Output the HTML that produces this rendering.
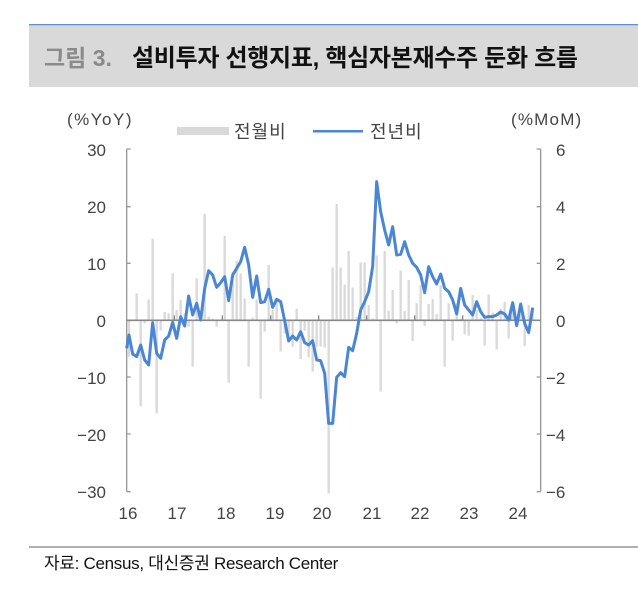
<!DOCTYPE html>
<html><head><meta charset="utf-8"><style>
body{margin:0;background:#fff;width:638px;height:597px;overflow:hidden;font-family:"Liberation Sans","Noto Sans CJK KR",sans-serif;}
</style></head><body>
<svg width="638" height="597" xmlns="http://www.w3.org/2000/svg" style="position:absolute;left:0;top:0">
<rect x="29" y="24" width="609" height="1.5" fill="#5b8fd6"/>
<rect x="29" y="26" width="609" height="61" fill="#d9d9d9"/>
<text x="44" y="66" font-size="23" font-weight="bold" fill="#8a8a8a" font-family="Liberation Sans,Noto Sans CJK KR,sans-serif">그림 3.</text>
<text x="132" y="66" font-size="24" font-weight="bold" fill="#111" font-family="Liberation Sans,Noto Sans CJK KR,sans-serif" letter-spacing="-0.3">설비투자 선행지표, 핵심자본재수주 둔화 흐름</text>
<g font-family="Liberation Sans,Noto Sans CJK KR,sans-serif" font-size="17" fill="#444">
<text x="67" y="125" letter-spacing="1.5">(%YoY)</text>
<text x="511" y="125" letter-spacing="1.2">(%MoM)</text>
<rect x="177" y="127" width="52" height="8" fill="#d9d9d9"/>
<text x="234" y="138" font-size="18" letter-spacing="1">전월비</text>
<rect x="313" y="130" width="50" height="2.5" fill="#4a86d4"/>
<text x="370" y="138" font-size="18" letter-spacing="1">전년비</text>
<g text-anchor="end">
<text x="106" y="156">30</text><text x="106" y="213">20</text><text x="106" y="270">10</text><text x="106" y="327">0</text>
<text x="106" y="384">−10</text><text x="106" y="441">−20</text><text x="106" y="498">−30</text>
</g>
<g text-anchor="start">
<text x="556" y="156">6</text><text x="556" y="213">4</text><text x="556" y="270">2</text><text x="556" y="327">0</text>
<text x="546" y="384">−2</text><text x="546" y="441">−4</text><text x="546" y="498">−6</text>
</g>
<g text-anchor="middle">
<text x="128" y="519">16</text><text x="177" y="519">17</text><text x="226" y="519">18</text><text x="275" y="519">19</text><text x="322" y="519">20</text><text x="372" y="519">21</text><text x="420" y="519">22</text><text x="469" y="519">23</text><text x="518" y="519">24</text>
</g>
</g>
<g transform="translate(120,160) scale(0.33333)">
<g stroke="#d9d9d9" stroke-width="7">
<path d="M27 481V590M50 481V400M62 481V738M74 481V490M86 481V418M98 481V236M110 481V760M122 481V512M134 481V456M146 481V460M158 481V340M170 481V450M182 481V420M194 481V460M206 481V500M218 481V620M230 481V355M242 481V470M254 481V162M266 481V470M278 481V476M290 481V500M302 481V480M314 481V228M326 481V668M338 481V335M350 481V302M362 481V340M374 481V415M386 481V620M398 481V473M410 481V418M422 481V716M434 481V515M446 481V315M458 481V450M470 481V420M482 481V575M494 481V520M506 481V540M518 481V560M530 481V446M542 481V597M554 481V512M566 481V592M578 481V635M590 481V560M602 481V560M614 481V562M626 481V1000M638 481V322M650 481V132M662 481V322M674 481V374M686 481V273M698 481V383M710 481V470M722 481V307M734 481V307M746 481V435M758 481V475M770 481V286M782 481V695M794 481V273M806 481V452M818 481V390M830 481V490M842 481V332M854 481V453M866 481V360M878 481V543M890 481V430M902 481V375M914 481V498M926 481V432M938 481V417M950 481V462M962 481V375M974 481V620M986 481V430M998 481V542M1010 481V430M1022 481V476M1034 481V523M1046 481V527M1058 481V405M1070 481V450M1082 481V474M1094 481V557M1106 481V403M1118 481V458M1130 481V568M1142 481V446M1154 481V426M1166 481V536M1178 481V425M1190 481V476M1202 481V450M1214 481V558M1226 481V435M1238 481V444"/>
</g>
<path d="M20 -33V995M20 -33H32M20 140H32M20 310H32M20 481H32M20 651H32M20 822H32M20 995H32" stroke="#999" stroke-width="4" fill="none"/>
<path d="M1262 -33V995M1262 -33H1250M1262 140H1250M1262 310H1250M1262 481H1250M1262 651H1250M1262 822H1250M1262 995H1250" stroke="#999" stroke-width="4" fill="none"/>
<path d="M20 481H1262" stroke="#888" stroke-width="5"/>
<path d="M163 481V466M307 481V466M452 481V466M596 481V466M740 481V466M884 481V466M1028 481V466M1172 481V466" stroke="#888" stroke-width="4"/>
<polyline fill="none" stroke="#4a86d4" stroke-width="9" stroke-linejoin="round" points="20,565 27,525 38,582 50,590 62,555 74,600 86,615 98,488 110,580 122,595 134,540 146,528 158,487 170,535 182,470 194,498 206,408 218,465 230,430 242,480 254,385 266,332 278,345 290,382 302,368 314,350 326,422 338,345 350,325 362,305 374,262 386,315 398,412 410,348 422,428 434,425 446,388 458,442 470,418 482,425 494,482 506,543 518,528 530,540 542,515 554,548 566,555 578,542 590,600 602,602 614,640 626,790 638,790 650,652 662,638 674,650 686,562 698,572 710,520 722,450 734,425 746,395 758,320 770,65 782,155 794,210 806,255 818,200 830,285 842,283 854,245 866,285 878,310 890,322 902,345 914,398 926,320 938,350 950,372 962,342 974,385 986,395 998,420 1010,462 1022,385 1034,435 1046,450 1058,465 1070,425 1082,455 1094,472 1106,470 1118,470 1130,465 1142,456 1154,462 1166,480 1178,428 1190,497 1202,432 1214,490 1226,518 1238,443"/>
</g>
<rect x="29" y="546" width="609" height="2" fill="#b0b0b0"/>
<text x="44" y="569" font-size="17" fill="#111" font-family="Liberation Sans,Noto Sans CJK KR,sans-serif" letter-spacing="-0.3">자료: Census, 대신증권 Research Center</text>
</svg>
</body></html>
